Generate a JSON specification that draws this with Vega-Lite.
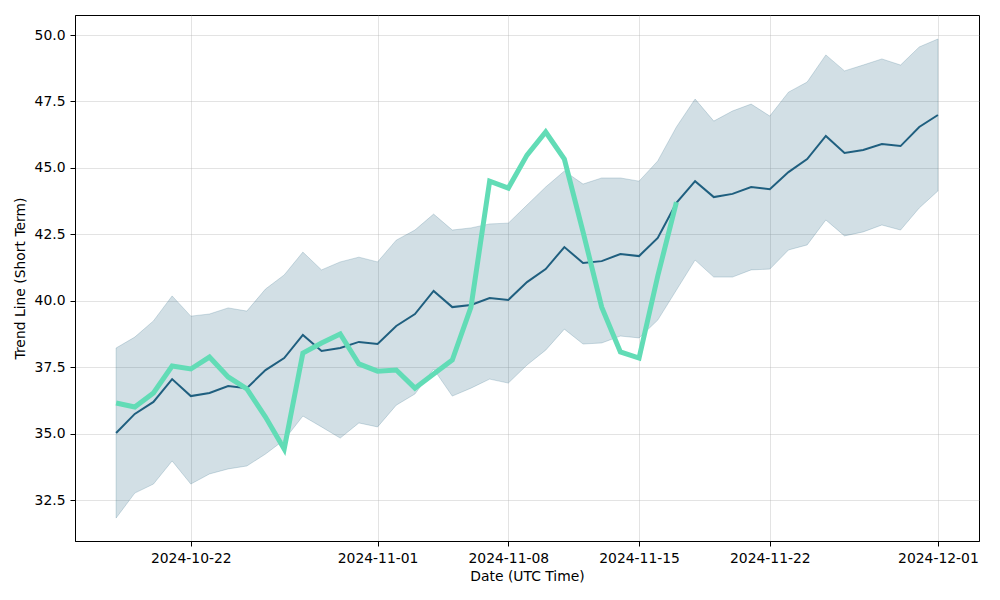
{
  "$schema": "https://vega.github.io/schema/vega-lite/v6.json",
  "width": 904,
  "height": 526,
  "autosize": {"type": "none"},
  "padding": {"left": 75, "top": 15, "right": 21, "bottom": 59},
  "background": "white",
  "config": {
    "font": "DejaVu Sans",
    "view": {"stroke": "black", "strokeWidth": 1},
    "axis": {
      "labelFont": "DejaVu Sans",
      "titleFont": "DejaVu Sans",
      "labelFontSize": 13.9,
      "titleFontSize": 13.9,
      "titleFontWeight": "normal",
      "labelColor": "black",
      "titleColor": "black",
      "domainColor": "black",
      "tickColor": "black",
      "tickSize": 5,
      "labelPadding": 5,
      "gridColor": "#b0b0b0",
      "gridOpacity": 0.35,
      "gridWidth": 1
    }
  },
  "data": {
    "values": [
      {"date": "2024-10-18", "mean": 35.02, "lower": 31.82, "upper": 38.22, "trend": 36.15},
      {"date": "2024-10-19", "mean": 35.74, "lower": 32.76, "upper": 38.63, "trend": 36.0},
      {"date": "2024-10-20", "mean": 36.19, "lower": 33.10, "upper": 39.24, "trend": 36.53},
      {"date": "2024-10-21", "mean": 37.05, "lower": 33.97, "upper": 40.18, "trend": 37.54},
      {"date": "2024-10-22", "mean": 36.41, "lower": 33.10, "upper": 39.42, "trend": 37.43},
      {"date": "2024-10-23", "mean": 36.53, "lower": 33.48, "upper": 39.50, "trend": 37.88},
      {"date": "2024-10-24", "mean": 36.79, "lower": 33.67, "upper": 39.73, "trend": 37.13},
      {"date": "2024-10-25", "mean": 36.71, "lower": 33.78, "upper": 39.61, "trend": 36.68},
      {"date": "2024-10-26", "mean": 37.39, "lower": 34.23, "upper": 40.44, "trend": 35.62},
      {"date": "2024-10-27", "mean": 37.84, "lower": 34.76, "upper": 40.97, "trend": 34.42},
      {"date": "2024-10-28", "mean": 38.71, "lower": 35.66, "upper": 41.83, "trend": 38.03},
      {"date": "2024-10-29", "mean": 38.11, "lower": 35.25, "upper": 41.16, "trend": 38.41},
      {"date": "2024-10-30", "mean": 38.22, "lower": 34.83, "upper": 41.46, "trend": 38.75},
      {"date": "2024-10-31", "mean": 38.45, "lower": 35.40, "upper": 41.64, "trend": 37.62},
      {"date": "2024-11-01", "mean": 38.37, "lower": 35.25, "upper": 41.46, "trend": 37.35},
      {"date": "2024-11-02", "mean": 39.05, "lower": 36.07, "upper": 42.28, "trend": 37.39},
      {"date": "2024-11-03", "mean": 39.50, "lower": 36.49, "upper": 42.66, "trend": 36.71},
      {"date": "2024-11-04", "mean": 40.37, "lower": 37.43, "upper": 43.26, "trend": 37.24},
      {"date": "2024-11-05", "mean": 39.76, "lower": 36.41, "upper": 42.66, "trend": 37.77},
      {"date": "2024-11-06", "mean": 39.84, "lower": 36.71, "upper": 42.74, "trend": 39.76},
      {"date": "2024-11-07", "mean": 40.10, "lower": 37.05, "upper": 42.89, "trend": 44.50},
      {"date": "2024-11-08", "mean": 40.03, "lower": 36.90, "upper": 42.92, "trend": 44.24},
      {"date": "2024-11-09", "mean": 40.70, "lower": 37.58, "upper": 43.60, "trend": 45.48},
      {"date": "2024-11-10", "mean": 41.19, "lower": 38.14, "upper": 44.28, "trend": 46.35},
      {"date": "2024-11-11", "mean": 42.02, "lower": 38.93, "upper": 44.88, "trend": 45.33},
      {"date": "2024-11-12", "mean": 41.42, "lower": 38.37, "upper": 44.39, "trend": 42.59},
      {"date": "2024-11-13", "mean": 41.49, "lower": 38.41, "upper": 44.62, "trend": 39.76},
      {"date": "2024-11-14", "mean": 41.76, "lower": 38.67, "upper": 44.62, "trend": 38.07},
      {"date": "2024-11-15", "mean": 41.68, "lower": 38.60, "upper": 44.50, "trend": 37.84},
      {"date": "2024-11-16", "mean": 42.36, "lower": 39.27, "upper": 45.26, "trend": 40.93},
      {"date": "2024-11-17", "mean": 43.68, "lower": 40.40, "upper": 46.54, "trend": 43.71},
      {"date": "2024-11-18", "mean": 44.50, "lower": 41.53, "upper": 47.59, "trend": null},
      {"date": "2024-11-19", "mean": 43.90, "lower": 40.89, "upper": 46.76, "trend": null},
      {"date": "2024-11-20", "mean": 44.02, "lower": 40.89, "upper": 47.14, "trend": null},
      {"date": "2024-11-21", "mean": 44.28, "lower": 41.16, "upper": 47.40, "trend": null},
      {"date": "2024-11-22", "mean": 44.20, "lower": 41.19, "upper": 46.95, "trend": null},
      {"date": "2024-11-23", "mean": 44.84, "lower": 41.91, "upper": 47.85, "trend": null},
      {"date": "2024-11-24", "mean": 45.33, "lower": 42.10, "upper": 48.23, "trend": null},
      {"date": "2024-11-25", "mean": 46.20, "lower": 43.04, "upper": 49.25, "trend": null},
      {"date": "2024-11-26", "mean": 45.56, "lower": 42.44, "upper": 48.65, "trend": null},
      {"date": "2024-11-27", "mean": 45.67, "lower": 42.59, "upper": 48.87, "trend": null},
      {"date": "2024-11-28", "mean": 45.90, "lower": 42.85, "upper": 49.10, "trend": null},
      {"date": "2024-11-29", "mean": 45.82, "lower": 42.66, "upper": 48.87, "trend": null},
      {"date": "2024-11-30", "mean": 46.54, "lower": 43.49, "upper": 49.55, "trend": null},
      {"date": "2024-12-01", "mean": 46.99, "lower": 44.13, "upper": 49.85, "trend": null}
    ]
  },
  "encoding": {
    "x": {
      "field": "date",
      "type": "temporal",
      "title": "Date (UTC Time)",
      "scale": {
        "type": "utc",
        "domain": [
          {"year": 2024, "month": 10, "date": 15, "hours": 19, "minutes": 12, "utc": true},
          {"year": 2024, "month": 12, "date": 3, "hours": 4, "minutes": 48, "utc": true}
        ]
      },
      "axis": {
        "format": "%Y-%m-%d",
        "labelAngle": 0,
        "titlePadding": 5,
        "values": [
          {"year": 2024, "month": 10, "date": 22, "utc": true},
          {"year": 2024, "month": 11, "date": 1, "utc": true},
          {"year": 2024, "month": 11, "date": 8, "utc": true},
          {"year": 2024, "month": 11, "date": 15, "utc": true},
          {"year": 2024, "month": 11, "date": 22, "utc": true},
          {"year": 2024, "month": 12, "date": 1, "utc": true}
        ]
      }
    }
  },
  "layer": [
    {
      "mark": {"type": "area", "color": "#1f5f7f", "fillOpacity": 0.2, "stroke": "#1f5f7f", "strokeOpacity": 0.2, "strokeWidth": 1},
      "encoding": {
        "y": {
          "field": "lower",
          "type": "quantitative",
          "title": "Trend Line (Short Term)",
          "scale": {"domain": [30.957, 50.753], "nice": false, "zero": false},
          "axis": {"values": [32.5, 35, 37.5, 40, 42.5, 45, 47.5, 50], "format": ".1f", "titlePadding": 7}
        },
        "y2": {"field": "upper"}
      }
    },
    {
      "mark": {"type": "line", "color": "#1f5f7f", "strokeWidth": 2},
      "encoding": {"y": {"field": "mean", "type": "quantitative"}}
    },
    {
      "mark": {"type": "line", "color": "#62dcb6", "strokeWidth": 5, "strokeJoin": "miter"},
      "encoding": {"y": {"field": "trend", "type": "quantitative"}}
    }
  ]
}
